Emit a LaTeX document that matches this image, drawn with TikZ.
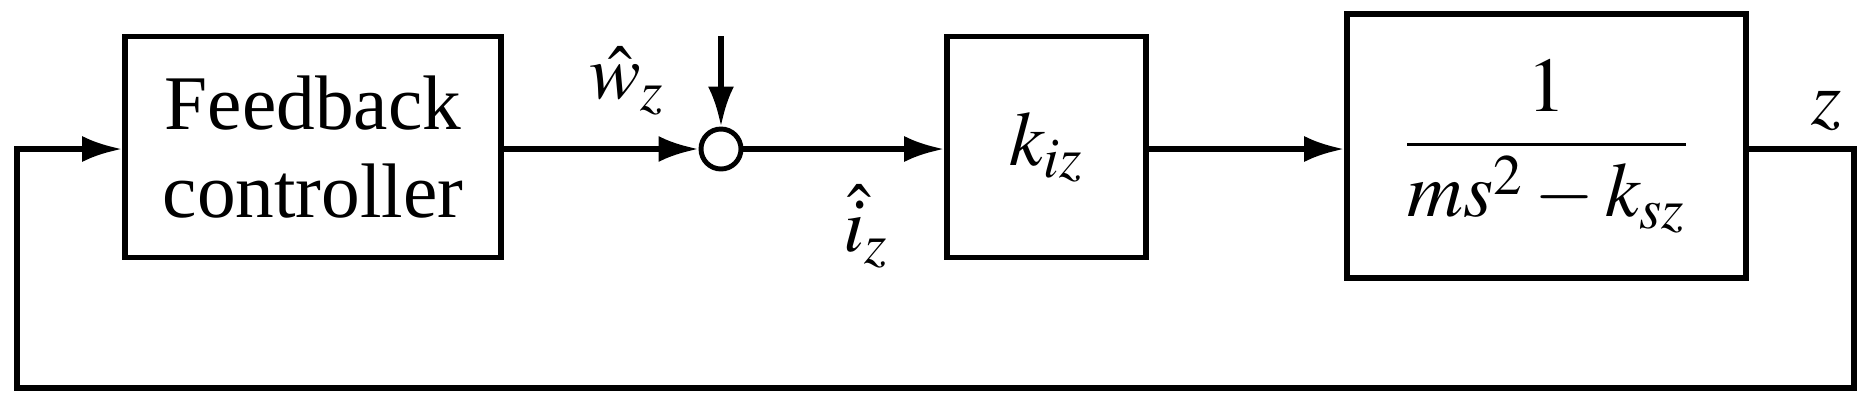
\documentclass[tikz,border=0pt]{standalone}
\usepackage{amsmath}
\usepackage{mathptmx}
\usepackage{fontspec}
\setmainfont{Liberation Serif}
\usetikzlibrary{positioning, arrows.meta}
\tikzset{>={Latex[length=4mm,width=2.6mm]}}
\tikzstyle{block}=[draw,line width=1.6pt,inner sep=0pt]
\tikzstyle{sig}=[line width=1.6pt]
\begin{document}
\begin{tikzpicture}[font=\fontsize{22}{25}\selectfont]
  \useasboundingbox (0,0) rectangle (18.72,4.06);
  % blocks
  \node[block,minimum width=3.76cm,minimum height=2.21cm,align=center] (ctrl) at (3.13,2.59)
    {Feedback\\controller};
  \node[block,draw,circle,minimum size=0.4cm,line width=1.4pt] (sum) at (7.21,2.57) {};
  \node[block,minimum width=1.99cm,minimum height=2.21cm] (kiz) at (10.465,2.59) {$k_{iz}$};
  \node[block,minimum width=3.99cm,minimum height=2.64cm] (plant) at (15.465,2.6)
    {$\dfrac{1}{ms^2-k_{sz}}$};
  \coordinate (out) at (18.54,2.57);
  \coordinate (bl) at (0.17,0.18);
  \coordinate (dist) at (7.21,3.70);
  % connectors
  \draw[sig,->] (ctrl.east |- sum) -- (sum.west);
  \draw[sig,->] (sum.east) -- (kiz.west |- sum);
  \draw[sig,->] (kiz.east |- sum) -- (plant.west |- sum);
  \draw[sig,->] (dist) -- (sum.north);
  \draw[sig,->] (plant.east |- out) -- (out) |- (bl) |- (ctrl.west |- sum);
  % labels
  \node (wz) at (6.27,3.25) {$\hat{w}_z$};
  \node (iz) at (8.66,1.80) {$\hat{i}_z$};
  \node (z) at (18.27,2.95) {$z$};
\end{tikzpicture}
\end{document}
